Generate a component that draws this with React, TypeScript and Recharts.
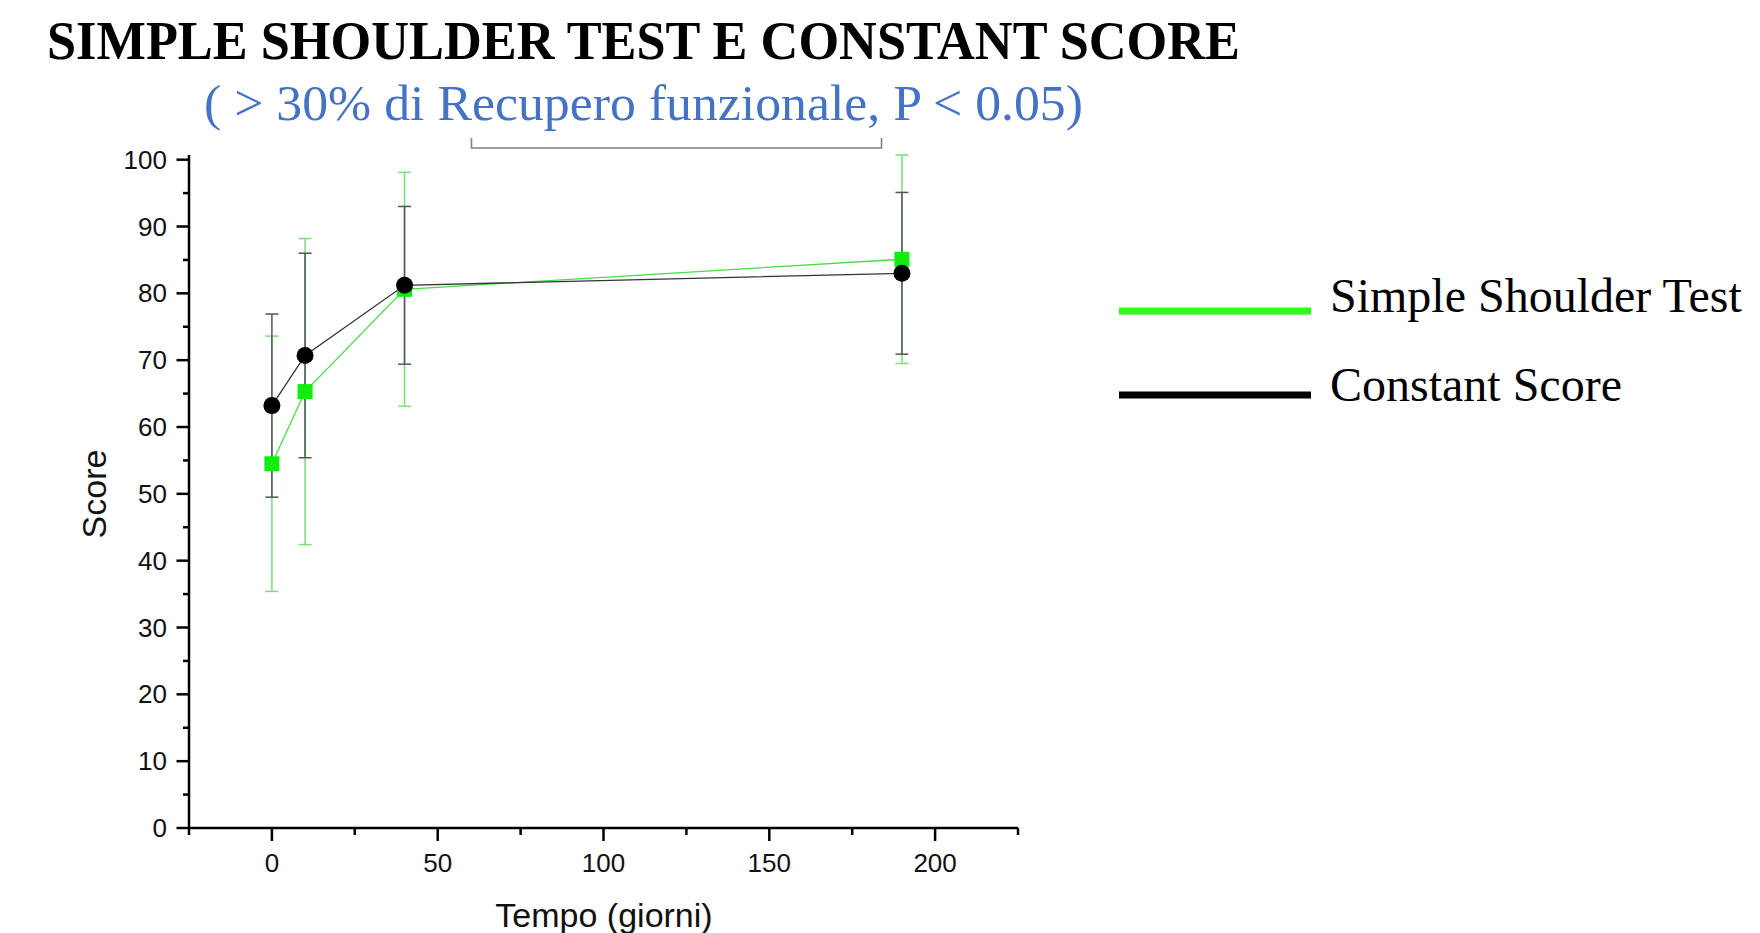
import React from 'react';
import { LineChart, Line, XAxis, YAxis, ErrorBar, Label } from 'recharts';

// Tempo in giorni, media ± DS
const days = [0, 10, 40, 190];
const sstMean = [54.5, 65.3, 80.6, 85.1];
const sstErr = [19.1, 22.9, 17.5, 15.6];
const csMean = [63.2, 70.7, 81.2, 83.0];
const csErr = [13.7, 15.3, 11.8, 12.1];

const xTicks = [-25, 0, 25, 50, 75, 100, 125, 150, 175, 200, 225];
const yTicks = [0, 5, 10, 15, 20, 25, 30, 35, 40, 45, 50, 55, 60, 65, 70, 75, 80, 85, 90, 95, 100];

const TITLE = 'SIMPLE SHOULDER TEST E CONSTANT SCORE';
const SUBTITLE = '( > 30% di Recupero funzionale, P < 0.05)';

const series = [
  { key: 'sst', name: 'Simple Shoulder Test', legend: '#2bff16' },
  { key: 'cs', name: 'Constant Score', legend: '#000000' },
];

const data = days.map((d, i) => ({
  day: d,
  sst: sstMean[i],
  sstErr: sstErr[i],
  cs: csMean[i],
  csErr: csErr[i],
}));

const SANS = '"Liberation Sans", Arial, sans-serif';
const SERIF = '"Liberation Serif", "Times New Roman", serif';

const YTick = ({ x, y, payload }: any) => {
  const major = payload.value % 10 === 0;
  return (
    <g>
      <line x1={x - (major ? 12.5 : 6)} x2={x} y1={y} y2={y} stroke="#000" strokeWidth={2.5} />
      {major && (
        <text x={x - 22} y={y} textAnchor="end" dominantBaseline="central" fontSize={26} fontFamily={SANS} fill="#111">
          {payload.value}
        </text>
      )}
    </g>
  );
};

const XTick = ({ x, y, payload }: any) => {
  const major = payload.value % 50 === 0;
  return (
    <g>
      <line x1={x} x2={x} y1={y} y2={y + (major ? 13 : 7)} stroke="#000" strokeWidth={2.5} />
      {major && (
        <text x={x} y={y + 35} textAnchor="middle" dominantBaseline="central" fontSize={26} fontFamily={SANS} fill="#111">
          {payload.value}
        </text>
      )}
    </g>
  );
};

const SquareDot = ({ cx, cy, index }: any) => (
  <rect key={`sq-${index}`} x={cx - 7.5} y={cy - 7.5} width={15} height={15} fill="#10ee10" />
);

const CircleDot = ({ cx, cy, index }: any) => (
  <circle key={`ci-${index}`} cx={cx} cy={cy} r={8.5} fill="#000" />
);

export default function App() {
  return (
    <div style={{ position: 'absolute', left: 0, top: 0, width: 1760, height: 933, background: '#fff', overflow: 'hidden' }}>
      <svg width={1760} height={933} style={{ position: 'absolute', left: 0, top: 0 }}>
        <text x={47} y={59} fontSize={54} fontWeight="bold" fontFamily={SERIF} fill="#000" textLength={1193} lengthAdjust="spacingAndGlyphs">
          {TITLE}
        </text>
        <text x={204} y={120} fontSize={50} fontFamily={SERIF} fill="#4472c4" textLength={879} lengthAdjust="spacingAndGlyphs">
          {SUBTITLE}
        </text>
        <path d="M471.5 138 V148 H881.5 V138" fill="none" stroke="#808080" strokeWidth={1.6} />
        {/* legend */}
        {series.map((s, i) => (
          <g key={s.key}>
            <line x1={1119} x2={1311} y1={311 + i * 84} y2={311 + i * 84} stroke={s.legend} strokeWidth={7} />
            <text x={1330} y={312 + i * 89} fontSize={48} fontFamily={SERIF} fill="#000">
              {s.name}
            </text>
          </g>
        ))}
      </svg>
      <div style={{ position: 'absolute', left: 0, top: 0 }}>
        <LineChart
          width={1760}
          height={933}
          data={data}
          margin={{ top: 155, right: 742, bottom: 0, left: 0 }}
        >
          <XAxis
            dataKey="day"
            type="number"
            domain={[-25, 225]}
            ticks={xTicks}
            interval={0}
            height={105}
            tickSize={0}
            tickMargin={0}
            tick={<XTick />}
            axisLine={{ stroke: '#000', strokeWidth: 2.5 }}
          >
            <Label
              content={() => (
                <text x={604} y={915} textAnchor="middle" dominantBaseline="central" fontSize={34} fontFamily={SANS} fill="#111">
                  Tempo (giorni)
                </text>
              )}
            />
          </XAxis>
          <YAxis
            type="number"
            domain={[0, 100]}
            ticks={yTicks}
            interval={0}
            width={189}
            tickSize={0}
            tickMargin={0}
            tick={<YTick />}
            axisLine={{ stroke: '#000', strokeWidth: 2.5 }}
          >
            <Label
              content={() => (
                <text x={94} y={494} transform="rotate(-90 94 494)" textAnchor="middle" dominantBaseline="central" fontSize={34} fontFamily={SANS} fill="#111">
                  Score
                </text>
              )}
            />
          </YAxis>
          <Line
            dataKey="sst"
            name="Simple Shoulder Test"
            stroke="#44dd44"
            strokeWidth={1.3}
            dot={<SquareDot />}
            activeDot={false}
            isAnimationActive={false}
          >
            <ErrorBar dataKey="sstErr" direction="y" width={6.5} stroke="#80e080" strokeWidth={1.6} isAnimationActive={false} />
          </Line>
          <Line
            dataKey="cs"
            name="Constant Score"
            stroke="#333"
            strokeWidth={1.3}
            dot={<CircleDot />}
            activeDot={false}
            isAnimationActive={false}
          >
            <ErrorBar dataKey="csErr" direction="y" width={6.5} stroke="#555" strokeWidth={1.5} isAnimationActive={false} />
          </Line>
        </LineChart>
      </div>
    </div>
  );
}
